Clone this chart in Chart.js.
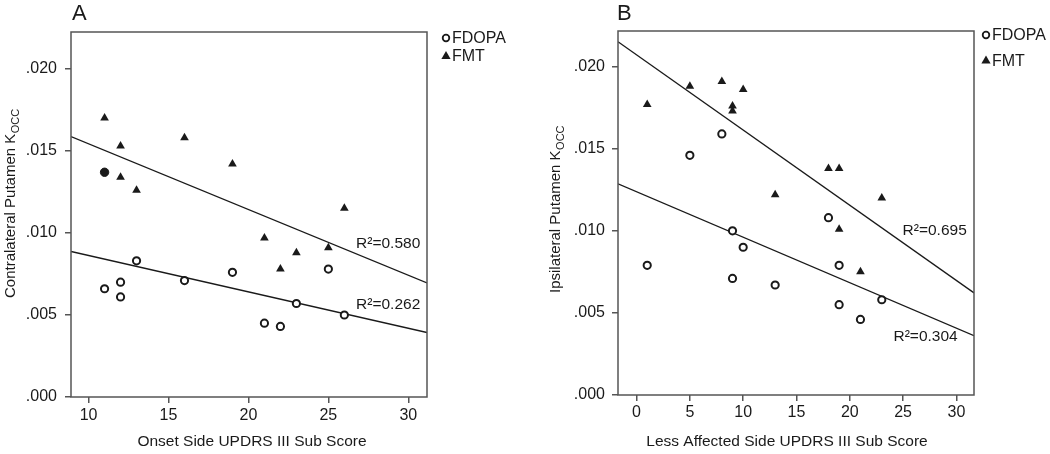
<!DOCTYPE html>
<html>
<head>
<meta charset="utf-8">
<script src="https://cdn.jsdelivr.net/npm/chart.js@4"></script>
<style>
  body { margin: 0; background: #fff; }
  #wrap { position: relative; width: 1050px; height: 454px; }
  canvas { position: absolute; top: 0; }
  #chartA { left: 0; }
  #chartB { left: 525px; }
</style>
</head>
<body>
<div id="wrap">
  <canvas id="chartA" width="525" height="454"></canvas>
  <canvas id="chartB" width="525" height="454"></canvas>
</div>
<script>
// Panel A - onset side score vs contralateral putamen Kocc
var scoreA_fdopa = [11, 12, 12, 13, 16, 19, 21, 22, 23, 25, 26];
var koccA_fdopa = [0.0066, 0.0070, 0.0061, 0.0083, 0.0071, 0.0076, 0.0045, 0.0043, 0.0057, 0.0078, 0.0050];
var scoreA_fmt = [11, 12, 12, 13, 16, 19, 21, 22, 23, 25, 26];
var koccA_fmt = [0.0170, 0.0153, 0.0134, 0.0126, 0.0158, 0.0142, 0.0097, 0.0078, 0.0088, 0.0091, 0.0115];
var scoreA_filled = [11];
var koccA_filled = [0.0137];
var fitXA = [8.9, 31.17];
var fitA_fdopa = [0.00887, 0.00393];
var fitA_fmt = [0.01587, 0.00695];
var r2A = ['R²=0.580', 'R²=0.262'];

// Panel B - less affected side score vs ipsilateral putamen Kocc
var scoreB_fdopa = [1, 5, 8, 9, 9, 10, 13, 18, 19, 19, 21, 23];
var koccB_fdopa = [0.0079, 0.0146, 0.0159, 0.0100, 0.0071, 0.0090, 0.0067, 0.0108, 0.0079, 0.0055, 0.0046, 0.0058];
var scoreB_fmt = [1, 5, 8, 9, 9, 10, 13, 18, 19, 19, 21, 23];
var koccB_fmt = [0.0177, 0.0188, 0.0191, 0.0176, 0.0173, 0.0186, 0.0122, 0.0138, 0.0138, 0.0101, 0.0075, 0.0120];
var fitXB = [-1.74, 31.65];
var fitB_fdopa = [0.01286, 0.00361];
var fitB_fmt = [0.02152, 0.00622];
var r2B = ['R²=0.695', 'R²=0.304'];

var xTicksA = [10, 15, 20, 25, 30];
var xTicksB = [0, 5, 10, 15, 20, 25, 30];
var yTicks = [0, 0.005, 0.010, 0.015, 0.020];

var FONT = '"Liberation Sans", Arial, sans-serif';
var INK = '#1a1a1a';

function pts(xs, ys) {
  return xs.map(function(x, i) { return { x: x, y: ys[i] }; });
}

// frame, legend, titles and R² labels
var decor = {
  id: 'decor',
  afterDraw: function(chart, args, o) {
    var ctx = chart.ctx, a = chart.chartArea;
    var xs = chart.scales.x, ys = chart.scales.y;
    ctx.save();
    ctx.strokeStyle = '#555';
    ctx.lineWidth = 1.5;
    ctx.strokeRect(a.left, a.top, a.right - a.left, a.bottom - a.top);

    ctx.fillStyle = INK;
    ctx.font = '22px ' + FONT;
    ctx.textAlign = 'left';
    ctx.textBaseline = 'alphabetic';
    ctx.fillText(o.letter, o.letterX, 20);

    // legend
    ctx.font = '16px ' + FONT;
    ctx.textBaseline = 'middle';
    ctx.strokeStyle = INK;
    ctx.lineWidth = 1.8;
    ctx.beginPath();
    ctx.arc(o.legX, o.legY1, 3.3, 0, Math.PI * 2);
    ctx.stroke();
    ctx.fillText('FDOPA', o.legX + 6, o.legY1 + 1);
    ctx.beginPath();
    ctx.moveTo(o.legX, o.legY2 - 5);
    ctx.lineTo(o.legX + 4.6, o.legY2 + 3);
    ctx.lineTo(o.legX - 4.6, o.legY2 + 3);
    ctx.closePath();
    ctx.fill();
    ctx.fillText('FMT', o.legX + 6, o.legY2 + 1);

    // x title
    ctx.font = '15.5px ' + FONT;
    ctx.textAlign = 'center';
    ctx.textBaseline = 'alphabetic';
    ctx.fillText(o.xTitle, o.xTitleX, 446);

    // y title with subscript
    ctx.save();
    ctx.font = '15px ' + FONT;
    ctx.translate(o.yTitleX, o.yTitleY);
    ctx.rotate(-Math.PI / 2);
    ctx.textAlign = 'left';
    ctx.fillText(o.yTitle, 0, 0);
    var w = ctx.measureText(o.yTitle).width;
    ctx.font = '11px ' + FONT;
    ctx.fillText('OCC', w + 0.5, 3.5);
    ctx.restore();

    // R² labels
    ctx.font = '15.5px ' + FONT;
    ctx.textAlign = 'right';
    ctx.textBaseline = 'middle';
    o.r2.forEach(function(t, i) {
      ctx.fillText(t, xs.getPixelForValue(o.r2Pos[i][0]), ys.getPixelForValue(o.r2Pos[i][1]));
    });
    ctx.restore();
  }
};

function makeChart(id, p) {
  var datasets = [
    { data: pts(p.fitX, p.fitFmt), showLine: true, borderColor: INK, borderWidth: 1.3, pointRadius: 0, order: 3 },
    { data: pts(p.fitX, p.fitFdopa), showLine: true, borderColor: INK, borderWidth: 1.3, pointRadius: 0, order: 3 },
    { label: 'FMT', data: pts(p.fmtX, p.fmtY), pointStyle: 'triangle', pointRadius: 5,
      backgroundColor: INK, borderColor: INK, borderWidth: 0, order: 1 },
    { label: 'FDOPA', data: pts(p.fdX, p.fdY), pointStyle: 'circle', pointRadius: 3.6,
      backgroundColor: '#fff', borderColor: INK, borderWidth: 2, order: 1 }
  ];
  if (p.filledX) {
    datasets.push({ data: pts(p.filledX, p.filledY), pointStyle: 'circle', pointRadius: 4.2,
      backgroundColor: INK, borderColor: INK, borderWidth: 1, order: 1 });
  }
  return new Chart(document.getElementById(id).getContext('2d'), {
    type: 'scatter',
    data: { datasets: datasets },
    options: {
      responsive: false,
      animation: false,
      layout: { padding: { left: 0, top: p.top, right: p.right, bottom: 0 } },
      plugins: { legend: { display: false }, tooltip: { enabled: false }, decor: p.decor },
      scales: {
        x: {
          type: 'linear', min: p.xMin, max: p.xMax,
          afterBuildTicks: function(s) { s.ticks = p.xTicks.map(function(v) { return { value: v }; }); },
          afterFit: function(s) { s.height = p.xH; },
          ticks: { color: INK, font: { family: FONT, size: 16 }, padding: p.xPad, maxRotation: 0, autoSkip: false },
          grid: { drawOnChartArea: false, tickLength: 6, color: '#555', lineWidth: 1.5 },
          border: { display: false }
        },
        y: {
          type: 'linear', min: 0, max: p.yMax,
          afterBuildTicks: function(s) { s.ticks = yTicks.map(function(v) { return { value: v }; }); },
          afterFit: function(s) { s.width = p.yW; },
          ticks: {
            color: INK, font: { family: FONT, size: 16 }, padding: p.yPad,
            callback: function(v) { return v.toFixed(3).replace(/^0/, ''); }
          },
          grid: { drawOnChartArea: false, tickLength: 6, color: '#555', lineWidth: 1.5 },
          border: { display: false }
        }
      }
    },
    plugins: [decor]
  });
}

makeChart('chartA', {
  fitX: fitXA, fitFmt: fitA_fmt, fitFdopa: fitA_fdopa,
  fmtX: scoreA_fmt, fmtY: koccA_fmt, fdX: scoreA_fdopa, fdY: koccA_fdopa,
  filledX: scoreA_filled, filledY: koccA_filled,
  xMin: 8.9, xMax: 31.17, yMax: 0.02225, xTicks: xTicksA,
  top: 32, right: 98, xH: 57, yW: 71, xPad: 3, yPad: 8,
  decor: {
    letter: 'A', letterX: 72, legX: 446, legY1: 38, legY2: 56,
    xTitle: 'Onset Side UPDRS III Sub Score', xTitleX: 252,
    yTitle: 'Contralateral Putamen K', yTitleX: 15, yTitleY: 298,
    r2: r2A, r2Pos: [[30.75, 0.00934], [30.75, 0.00562]]
  }
});

makeChart('chartB', {
  fitX: fitXB, fitFmt: fitB_fmt, fitFdopa: fitB_fdopa,
  fmtX: scoreB_fmt, fmtY: koccB_fmt, fdX: scoreB_fdopa, fdY: koccB_fdopa,
  xMin: -1.74, xMax: 31.65, yMax: 0.02217, xTicks: xTicksB,
  top: 31, right: 76, xH: 59, yW: 93, xPad: 2, yPad: 7,
  decor: {
    letter: 'B', letterX: 92, legX: 461, legY1: 35, legY2: 60.5,
    xTitle: 'Less Affected Side UPDRS III Sub Score', xTitleX: 262,
    yTitle: 'Ipsilateral Putamen K', yTitleX: 35, yTitleY: 293,
    r2: r2B, r2Pos: [[30.97, 0.0100], [30.12, 0.00355]]
  }
});
</script>
</body>
</html>
